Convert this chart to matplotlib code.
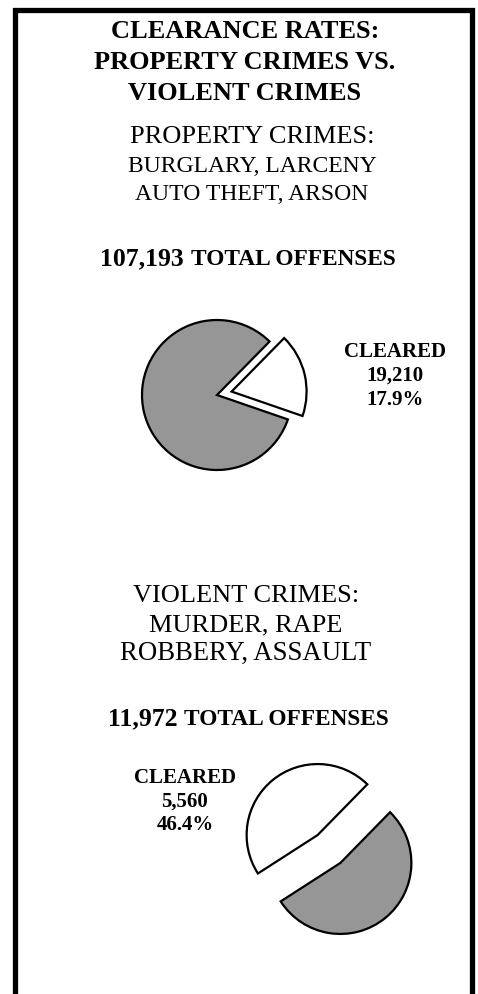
import matplotlib
matplotlib.use("Agg")
import matplotlib.pyplot as plt

# data
title_lines = ["CLEARANCE RATES:", "PROPERTY CRIMES VS.", "VIOLENT CRIMES"]

property_desc = ["PROPERTY CRIMES:", "BURGLARY, LARCENY", "AUTO THEFT, ARSON"]
property_total = 107193
property_cleared = 19210
property_pct = "17.9%"

violent_desc = ["VIOLENT CRIMES:", "MURDER, RAPE", "ROBBERY, ASSAULT"]
violent_total = 11972
violent_cleared = 5560
violent_pct = "46.4%"

GRAY = "#969696"
INK = "black"
W, H = 478, 994

plt.rcParams["font.family"] = ["Liberation Serif", "DejaVu Serif"]

fig = plt.figure(figsize=(W / 100, H / 100), dpi=100)
ax = fig.add_axes([0, 0, 1, 1])


def y(px):
    # pixel row (from top) -> data y
    return H - px


def block(lines, sizes, xc, baselines, total, ybase):
    for line, fs, yy in zip(lines, sizes, baselines):
        ax.text(xc, y(yy), line, ha="center", va="baseline", fontsize=fs)
    t1 = ax.text(0, y(ybase), f"{total:,} ", ha="left", va="baseline",
                 fontsize=18.5, fontweight="bold")
    t2 = ax.text(0, y(ybase), "TOTAL OFFENSES", ha="left", va="baseline",
                 fontsize=16.8, fontweight="bold")
    fig.canvas.draw()
    r = fig.canvas.get_renderer()
    w1 = t1.get_window_extent(r).width
    w2 = t2.get_window_extent(r).width
    x0 = 248 - (w1 + w2) / 2
    t1.set_x(x0)
    t2.set_x(x0 + w1)


def cleared_label(x, baselines, count, pct):
    for yy, s in zip(baselines, ["CLEARED", f"{count:,}", pct]):
        ax.text(x, y(yy), s, ha="center", va="baseline", fontsize=15,
                fontweight="bold")


wedge_kw = dict(edgecolor=INK, linewidth=1.6, joinstyle="miter")

for line, yy in zip(title_lines, [38, 69, 100]):
    ax.text(245, y(yy), line, ha="center", va="baseline",
            fontsize=19, fontweight="bold")

# property crimes: uncleared (gray) + cleared (white, pulled out)
block(property_desc, [19, 17, 17], 252, [143, 172, 200], property_total, 265)
ax.pie([property_total - property_cleared, property_cleared],
       colors=[GRAY, "white"], explode=[0, 15], startangle=45.5,
       center=(217, y(395)), radius=75, wedgeprops=wedge_kw, frame=True)
cleared_label(395, [357, 381, 405], property_cleared, property_pct)

# violent crimes: cleared (white) + uncleared (gray), pulled apart
block(violent_desc, [19, 19, 19.3], 246, [602, 631, 660], violent_total, 725)
ax.pie([violent_cleared, violent_total - violent_cleared],
       colors=["white", GRAY], explode=[18, 18], startangle=45.6,
       center=(329, y(849)), radius=71, wedgeprops=wedge_kw, frame=True)
cleared_label(185, [783, 807, 830], violent_cleared, violent_pct)

# frame: left, top, right (open at the bottom)
ax.plot([15.5, 15.5, 472.5, 472.5], [0, y(9.5), y(9.5), 0], color=INK,
        lw=3.8, solid_joinstyle="miter", solid_capstyle="butt")

ax.set_xlim(0, W)
ax.set_ylim(0, H)
ax.set_aspect("equal")
ax.axis("off")

fig.savefig("out.png", dpi=100, facecolor="white")
